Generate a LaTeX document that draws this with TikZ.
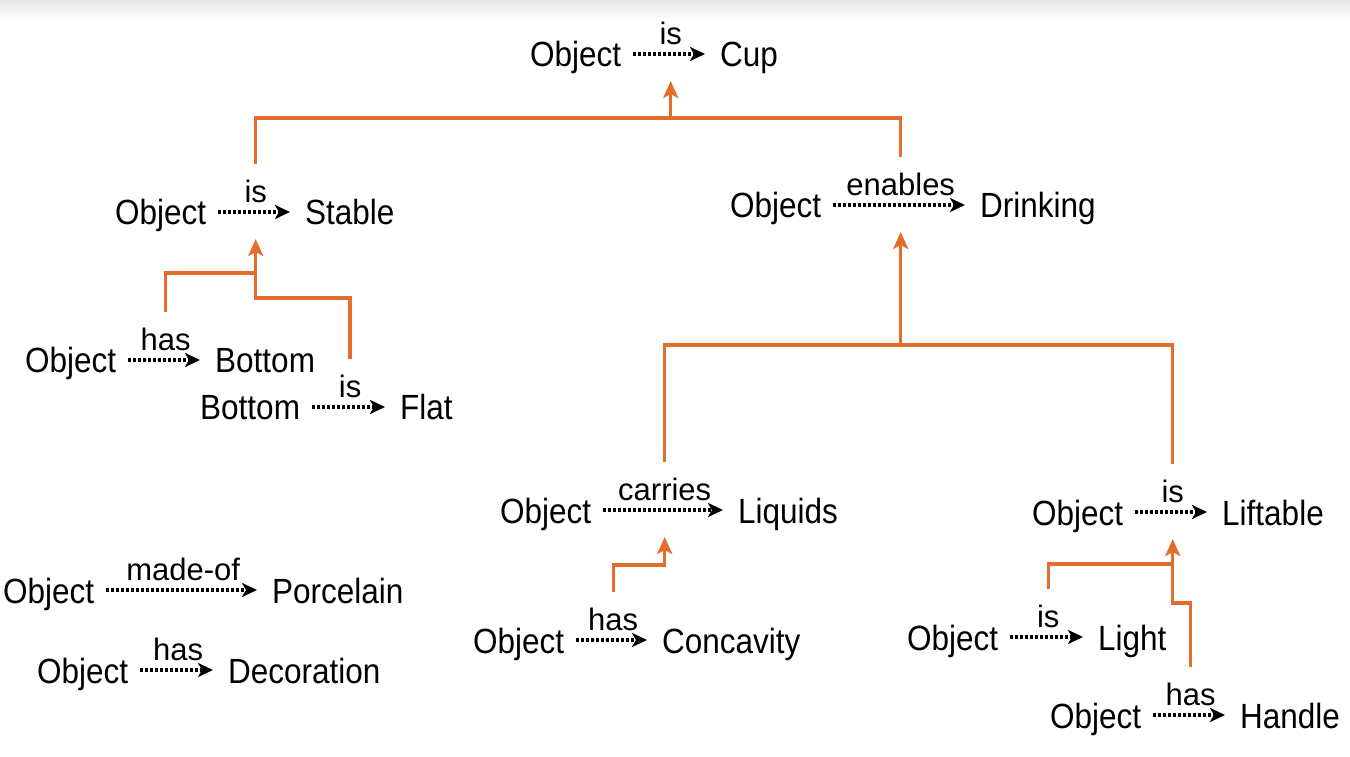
\documentclass[tikz,border=0pt]{standalone}
\usepackage{fontspec}
\setmainfont{Liberation Sans}
\newfontfamily\termfont[FakeStretch=0.9]{Liberation Sans}
\usetikzlibrary{arrows.meta,calc}
\definecolor{treeorange}{RGB}{228,108,44}
\tikzset{
    term/.style={anchor=base west, inner sep=2pt, text height=26pt, text depth=0pt,
        font=\termfont\fontsize{35}{40}\selectfont},
    rel/.style={line width=3.2pt, dash pattern=on 2.8pt off 2.2pt,
        -{Stealth[length=15pt,width=14pt,inset=4pt]}, shorten <=10pt, shorten >=13pt},
    lbl/.style={midway, above=8pt, inner sep=0pt, text depth=0pt,
        font=\fontsize{31}{34}\selectfont},
    branch/.style={treeorange, line width=3.2pt, shorten <=48pt},
    branchup/.style={treeorange, line width=3.2pt,
        -{Stealth[length=17pt,width=15pt,inset=4pt]}, shorten >=27pt},
}
\begin{document}
\begin{tikzpicture}[x=1pt, y=1pt]
    \useasboundingbox (0,0) rectangle (1350,756);
    \shade[top color=black!10, bottom color=white] (0,736) rectangle (1350,756);

    % triples
    \node[term] (ob1) at (528,689) {Object};
    \node[term] (cup) at (718,689) {Cup};
    \draw[rel] (ob1) -- (cup) node[lbl]{is} coordinate[midway] (r1);

    \node[term] (ob2) at (113,531) {Object};
    \node[term] (stable) at (303,531) {Stable};
    \draw[rel] (ob2) -- (stable) node[lbl]{is} coordinate[midway] (r2);

    \node[term] (ob3) at (728,538) {Object};
    \node[term] (drinking) at (978,538) {Drinking};
    \draw[rel] (ob3) -- (drinking) node[lbl]{enables} coordinate[midway] (r3);

    \node[term] (ob4) at (23,383) {Object};
    \node[term] (bottom) at (213,383) {Bottom};
    \draw[rel] (ob4) -- (bottom) node[lbl]{has} coordinate[midway] (r4);

    \node[term] (bottom2) at (198,336) {Bottom};
    \node[term] (flat) at (398,336) {Flat};
    \draw[rel] (bottom2) -- (flat) node[lbl]{is} coordinate[midway] (r5);

    \node[term] (ob6) at (498,233) {Object};
    \node[term] (liquids) at (736,233) {Liquids};
    \draw[rel] (ob6) -- (liquids) node[lbl]{carries} coordinate[midway] (r6);

    \node[term] (ob7) at (471,103) {Object};
    \node[term] (concavity) at (660,103) {Concavity};
    \draw[rel] (ob7) -- (concavity) node[lbl]{has} coordinate[midway] (r7);

    \node[term] (ob8) at (1030,231) {Object};
    \node[term] (liftable) at (1220,231) {Liftable};
    \draw[rel] (ob8) -- (liftable) node[lbl]{is} coordinate[midway] (r8);

    \node[term] (ob9) at (905,106) {Object};
    \node[term] (light) at (1096,106) {Light};
    \draw[rel] (ob9) -- (light) node[lbl]{is} coordinate[midway] (r9);

    \node[term] (ob10) at (1048,28) {Object};
    \node[term] (handle) at (1238,28) {Handle};
    \draw[rel] (ob10) -- (handle) node[lbl]{has} coordinate[midway] (r10);

    \node[term] (ob11) at (1,153) {Object};
    \node[term] (porcelain) at (270,153) {Porcelain};
    \draw[rel] (ob11) -- (porcelain) node[lbl]{made-of} coordinate[midway] (r11);

    \node[term] (ob12) at (35,73) {Object};
    \node[term] (decoration) at (226,73) {Decoration};
    \draw[rel] (ob12) -- (decoration) node[lbl]{has} coordinate[midway] (r12);

    % junctions
    \coordinate (j1) at (r1 |- 0,638);
    \coordinate (j2) at (r2 |- 0,483);
    \coordinate (j3) at (r2 |- 0,458);
    \coordinate (j4) at (r3 |- 0,411);
    \coordinate (j5) at (r6 |- 0,191);
    \coordinate (j6) at (r8 |- 0,192);
    \coordinate (j7) at (r8 |- 0,153);

    % orange tree
    \draw[branch] (r2) |- (j1);
    \draw[branch] (r3) |- (j1);
    \draw[branchup] (j1) -- (r1);

    \draw[branch] (r4) |- (j2);
    \draw[branch, branchup] (r5) |- (j3) -- (r2);

    \draw[branch] (r6) |- (j4);
    \draw[branch] (r8) |- (j4);
    \draw[branchup] (j4) -- (r3);

    \draw[branch, branchup] (r7) |- (j5) -- (r6);

    \draw[branch] (r9) |- (j6);
    \draw[branch, branchup] (r10) |- (j7) -- (r8);
\end{tikzpicture}
\end{document}
